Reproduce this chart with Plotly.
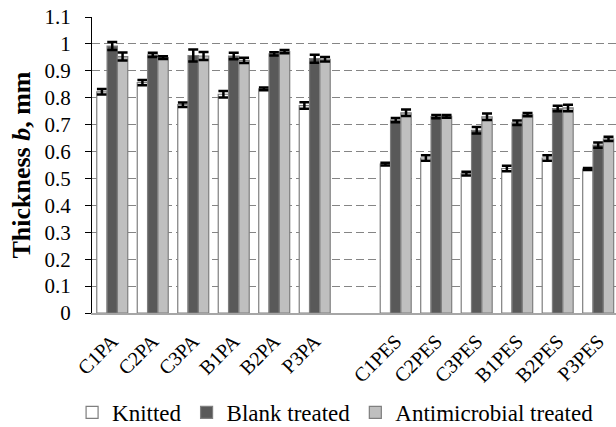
import plotly.graph_objects as go

# Sample names: PA group, then PES group (one empty slot between groups)
pa_samples = ["C1PA", "C2PA", "C3PA", "B1PA", "B2PA", "P3PA"]
pes_samples = ["C1PES", "C2PES", "C3PES", "B1PES", "B2PES", "P3PES"]

# Thickness b, mm (mean) and standard deviation
knitted = [0.822, 0.856, 0.774, 0.813, 0.833, 0.771,
           0.553, 0.576, 0.518, 0.537, 0.576, 0.535]
knitted_err = [0.010, 0.010, 0.008, 0.012, 0.005, 0.012,
               0.005, 0.010, 0.007, 0.010, 0.010, 0.004]

blank = [0.992, 0.959, 0.957, 0.955, 0.963, 0.945,
         0.717, 0.730, 0.679, 0.707, 0.760, 0.624]
blank_err = [0.015, 0.008, 0.022, 0.012, 0.006, 0.015,
             0.008, 0.006, 0.012, 0.008, 0.010, 0.010]

antimicrobial = [0.953, 0.949, 0.955, 0.939, 0.971, 0.943,
                 0.744, 0.731, 0.729, 0.737, 0.762, 0.647]
antimicrobial_err = [0.015, 0.005, 0.015, 0.010, 0.006, 0.008,
                     0.012, 0.005, 0.012, 0.006, 0.012, 0.008]

y_ticks = [0, 0.1, 0.2, 0.3, 0.4, 0.5, 0.6, 0.7, 0.8, 0.9, 1.0, 1.1]
y_tick_labels = ["0", "0.1", "0.2", "0.3", "0.4", "0.5",
                 "0.6", "0.7", "0.8", "0.9", "1", "1.1"]

samples = pa_samples + pes_samples
# x positions: PA at 0..5, a blank slot at 6, PES at 7..12
positions = list(range(len(pa_samples))) + \
    [len(pa_samples) + 1 + i for i in range(len(pes_samples))]

FONT = "Liberation Serif"
OUTLINE = "#7f7f7f"

series = [
    ("Knitted", knitted, knitted_err, "#ffffff"),
    ("Blank treated", blank, blank_err, "#595959"),
    ("Antimicrobial treated", antimicrobial, antimicrobial_err, "#bfbfbf"),
]

fig = go.Figure()
for name, vals, errs, color in series:
    fig.add_trace(go.Bar(
        name=name,
        x=positions,
        y=vals,
        marker=dict(color=color, line=dict(color=OUTLINE, width=1.2)),
        error_y=dict(type="data", array=errs, visible=True,
                     color="#000000", thickness=2.5, width=5),
    ))

fig.update_layout(
    width=616,
    height=427,
    margin=dict(l=92, r=0, t=17, b=114, autoexpand=False),
    paper_bgcolor="#ffffff",
    plot_bgcolor="#ffffff",
    barmode="group",
    bargap=0.235,
    bargroupgap=0,
    font=dict(family=FONT, size=21, color="#000000"),
    legend=dict(
        orientation="h",
        x=-0.038, xanchor="left",
        y=-0.336, yanchor="middle",
        font=dict(family=FONT, size=23, color="#000000"),
        itemwidth=30,
        bgcolor="rgba(0,0,0,0)",
    ),
)

fig.update_xaxes(
    range=[-0.5, 12.44],
    tickvals=positions,
    ticktext=samples,
    tickangle=-45,
    tickfont=dict(family=FONT, size=20),
    ticklabelstandoff=7,
    automargin=False,
    showgrid=False,
    zeroline=False,
    showline=True,
    linecolor="#a6a6a6",
    linewidth=1.5,
    ticks="",
)

fig.update_yaxes(
    range=[0, 1.1],
    tickvals=y_ticks,
    ticktext=y_tick_labels,
    tickfont=dict(family=FONT, size=21),
    automargin=False,
    ticks="outside",
    ticklen=6,
    tickcolor="#000000",
    ticklabelstandoff=10,
    showline=True,
    linecolor="#000000",
    linewidth=1,
    showgrid=True,
    gridcolor="#858585",
    gridwidth=1,
    griddash="8px,4px",
    zeroline=False,
    title=dict(text="<b>Thickness <i>b</i>, mm</b>",
               font=dict(family=FONT, size=26), standoff=6),
)

fig.write_html("out.html")
